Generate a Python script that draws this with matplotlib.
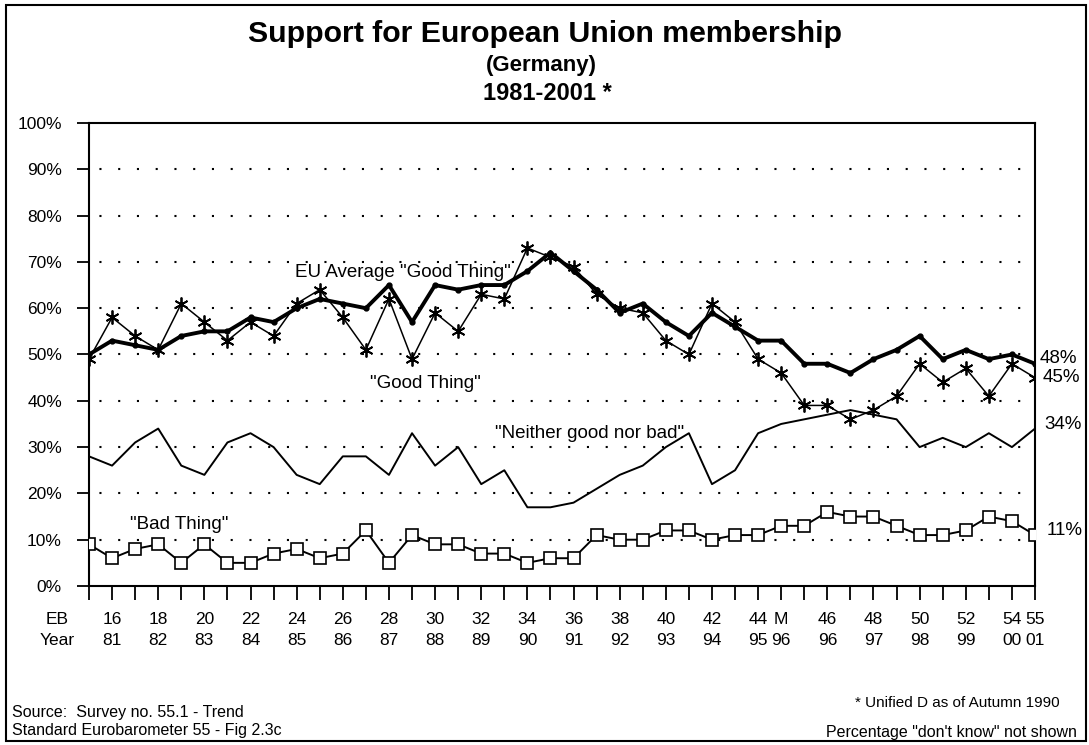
import numpy as np
import matplotlib.pyplot as plt
from matplotlib.patches import Rectangle

plt.rcParams['font.family'] = ['Liberation Sans', 'DejaVu Sans']

# survey waves: EB 15..44, the "M" wave, then EB 45..55
eb_labels = ['', '16', '', '18', '', '20', '', '22', '', '24', '', '26', '', '28', '',
             '30', '', '32', '', '34', '', '36', '', '38', '', '40', '', '42', '', '44',
             'M', '', '46', '', '48', '', '50', '', '52', '', '54', '55']
year_labels = ['', '81', '', '82', '', '83', '', '84', '', '85', '', '86', '', '87', '',
               '88', '', '89', '', '90', '', '91', '', '92', '', '93', '', '94', '', '95',
               '96', '', '96', '', '97', '', '98', '', '99', '', '00', '01']

eu_avg = [50, 53, 52, 51, 54, 55, 55, 58, 57, 60, 62, 61, 60, 65, 57, 65, 64, 65, 65, 68, 72,
          68, 64, 59, 61, 57, 54, 59, 56, 53, 53, 48, 48, 46, 49, 51, 54, 49, 51, 49, 50, 48]
good = [49, 58, 54, 51, 61, 57, 53, 57, 54, 61, 64, 58, 51, 62, 49, 59, 55, 63, 62, 73, 71,
        69, 63, 60, 59, 53, 50, 61, 57, 49, 46, 39, 39, 36, 38, 41, 48, 44, 47, 41, 48, 45]
neither = [28, 26, 31, 34, 26, 24, 31, 33, 30, 24, 22, 28, 28, 24, 33, 26, 30, 22, 25, 17, 17,
           18, 21, 24, 26, 30, 33, 22, 25, 33, 35, 36, 37, 38, 37, 36, 30, 32, 30, 33, 30, 34]
bad = [9, 6, 8, 9, 5, 9, 5, 5, 7, 8, 6, 7, 12, 5, 11, 9, 9, 7, 7, 5, 6,
       6, 11, 10, 10, 12, 12, 10, 11, 11, 13, 13, 16, 15, 15, 13, 11, 11, 12, 15, 14, 11]

W, H = 1089, 745
fig = plt.figure(figsize=(W / 100, H / 100), dpi=100)
ax = fig.add_axes([89 / W, 1 - 586 / H, (1035 - 89) / W, (586 - 123) / H])

x = np.arange(len(eb_labels))

# dotted grid
for v in range(10, 100, 10):
    ax.axhline(v, color='black', lw=1.5, ls=(4, (1, 8)), zorder=1)

ax.plot(x, neither, color='black', lw=1.4, zorder=3)
ax.plot(x, bad, color='black', lw=1.4, marker='s', ms=8.5, mfc='white', mec='black',
        mew=1.2, zorder=3)
ax.plot(x, good, color='black', lw=1.1, marker=(6, 2, 0), ms=10, mew=1.3, zorder=4)
ax.plot(x, eu_avg, color='black', lw=2.8, marker='o', ms=3.5, zorder=5)

ax.set_xlim(0, len(x) - 1)
ax.set_ylim(0, 100)
ax.set_yticks(range(0, 101, 10))
ax.set_yticklabels([f"{v}%" for v in range(0, 101, 10)])
ax.set_xticks(x)
ax.set_xticklabels([f"{e}\n{y}" for e, y in zip(eb_labels, year_labels)], linespacing=1.45)
ax.tick_params(axis='y', direction='out', length=8.5, width=1.3, pad=11, labelsize=12.5)
ax.tick_params(axis='x', direction='out', length=10, width=1.3, pad=9, labelsize=12.5)
for s in ax.spines.values():
    s.set_linewidth(1.5)

ax.annotate("EB\nYear", xy=(-1.4, 0), xytext=(0, -19), textcoords='offset points',
            ha='center', va='top', fontsize=12.5, linespacing=1.45, annotation_clip=False)

# series labels
ax.text(13.6, 67.8, 'EU Average "Good Thing"', ha='center', va='center', fontsize=13.5)
ax.text(14.6, 43.8, '"Good Thing"', ha='center', va='center', fontsize=13.5)
ax.text(21.7, 33.0, '"Neither good nor bad"', ha='center', va='center', fontsize=13.5)
ax.text(3.9, 13.2, '"Bad Thing"', ha='center', va='center', fontsize=13.5)

# end values
kw = dict(textcoords='offset points', va='center', ha='left', fontsize=13.5, annotation_clip=False)
ax.annotate(f"{eu_avg[-1]}%", xy=(x[-1], eu_avg[-1]), xytext=(3.6, 3.5), **kw)
ax.annotate(f"{good[-1]}%", xy=(x[-1], good[-1]), xytext=(5.5, 0), **kw)
ax.annotate(f"{neither[-1]}%", xy=(x[-1], neither[-1]), xytext=(6.5, 2.6), **kw)
ax.annotate(f"{bad[-1]}%", xy=(x[-1], bad[-1]), xytext=(8.4, 3), **kw)

# titles
fig.text(0.5, 1 - 34 / H, "Support for European Union membership", ha='center', va='center',
         fontsize=21.8, fontweight='bold')
fig.text(541 / W, 1 - 65 / H, "(Germany)", ha='center', va='center', fontsize=16,
         fontweight='bold')
fig.text(547 / W, 1 - 94 / H, "1981-2001 *", ha='center', va='center', fontsize=17,
         fontweight='bold')

# footnotes
fig.text(12 / W, 1 - 712 / H, "Source:  Survey no. 55.1 - Trend", ha='left', va='center',
         fontsize=11.5)
fig.text(12 / W, 1 - 731 / H, "Standard Eurobarometer 55 - Fig 2.3c", ha='left', va='center',
         fontsize=11.5)
fig.text(1060 / W, 1 - 703 / H, "* Unified D as of Autumn 1990", ha='right', va='center',
         fontsize=11)
fig.text(1077 / W, 1 - 732 / H, 'Percentage "don\'t know" not shown', ha='right',
         va='center', fontsize=11.5)

# outer frame
fig.patches.append(Rectangle((6 / W, 4 / H), (1086 - 6) / W, (740 - 4) / H,
                             transform=fig.transFigure, fill=False, lw=1.5, ec='black'))

fig.savefig("out.png", dpi=100)
